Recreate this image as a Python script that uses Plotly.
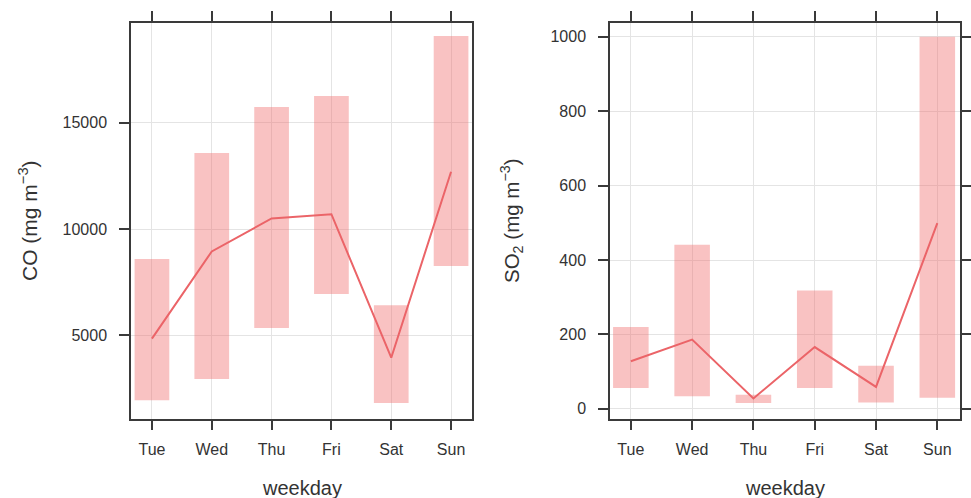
import plotly.graph_objects as go

days = ["Tue", "Wed", "Thu", "Fri", "Sat", "Sun"]

co_mean = [4850, 8950, 10500, 10700, 3950, 12700]
co_low = [1950, 2950, 5350, 6950, 1820, 8270]
co_high = [8590, 13580, 15740, 16260, 6420, 19090]

so2_mean = [128, 186, 28, 166, 59, 499]
so2_low = [56, 34, 16, 56, 17, 30]
so2_high = [220, 441, 38, 318, 116, 1000]

co_ticks = [5000, 10000, 15000]
so2_ticks = [0, 200, 400, 600, 800, 1000]

W, H = 971, 498
FONT = "Liberation Sans, Arial, sans-serif"
TXT = "#333333"
BAR = "rgba(240,110,110,0.42)"
LINE = "#EB6468"
GRID = "#E4E4E4"
AX = "#3a3a3a"

fig = go.Figure()

fig.add_trace(go.Bar(x=days, y=[h - l for h, l in zip(co_high, co_low)], base=co_low,
                     width=0.58, marker=dict(color=BAR, line=dict(width=0)),
                     xaxis="x", yaxis="y", showlegend=False))
fig.add_trace(go.Scatter(x=days, y=co_mean, mode="lines", line=dict(color=LINE, width=2),
                         xaxis="x", yaxis="y", showlegend=False))
fig.add_trace(go.Bar(x=days, y=[h - l for h, l in zip(so2_high, so2_low)], base=so2_low,
                     width=0.58, marker=dict(color=BAR, line=dict(width=0)),
                     xaxis="x2", yaxis="y2", showlegend=False))
fig.add_trace(go.Scatter(x=days, y=so2_mean, mode="lines", line=dict(color=LINE, width=2),
                         xaxis="x2", yaxis="y2", showlegend=False))

ydom = [(H - 418.5) / H, (H - 22.7) / H]

common_x = dict(type="category", showgrid=True, gridcolor=GRID, gridwidth=1,
                ticks="outside", ticklen=10, tickwidth=1.5, tickcolor=AX,
                showline=True, linecolor=AX, linewidth=1.5, mirror="allticks",
                automargin=False, ticklabelstandoff=6,
                tickfont=dict(family=FONT, size=16, color=TXT), zeroline=False)
common_y = dict(showgrid=True, gridcolor=GRID, gridwidth=1,
                ticks="outside", ticklen=10, tickwidth=1.5, tickcolor=AX,
                showline=True, linecolor=AX, linewidth=1.5, tickformat="d",
                automargin=False, ticklabelstandoff=9,
                tickfont=dict(family=FONT, size=16, color=TXT), zeroline=False)

fig.update_layout(
    width=W, height=H,
    margin=dict(l=0, r=0, t=0, b=0, autoexpand=False),
    paper_bgcolor="white", plot_bgcolor="white",
    barmode="overlay",
    xaxis=dict(common_x, domain=[131 / W, 472 / W], range=[-0.35, 5.35], anchor="y"),
    yaxis=dict(common_y, domain=ydom, range=[1090, 19710], tickvals=co_ticks,
               mirror=True, anchor="x"),
    xaxis2=dict(common_x, domain=[610 / W, 960 / W], range=[-0.34, 5.37], anchor="y2"),
    yaxis2=dict(common_y, domain=ydom, range=[-26, 1038], tickvals=so2_ticks,
                mirror="allticks", anchor="x2"),
    annotations=[
        dict(text="weekday", x=301.5 / W, y=(H - 488) / H, xref="paper", yref="paper",
             showarrow=False, font=dict(family=FONT, size=20, color=TXT),
             xanchor="center", yanchor="middle"),
        dict(text="weekday", x=785 / W, y=(H - 488) / H, xref="paper", yref="paper",
             showarrow=False, font=dict(family=FONT, size=20, color=TXT),
             xanchor="center", yanchor="middle"),
        dict(text="CO (mg m<sup>−3</sup>)", x=28 / W, y=(H - 221) / H, xref="paper", yref="paper",
             showarrow=False, textangle=-90, font=dict(family=FONT, size=21, color=TXT),
             xanchor="center", yanchor="middle"),
        dict(text="SO<sub>2</sub> (mg m<sup>−3</sup>)", x=512 / W, y=(H - 221) / H,
             xref="paper", yref="paper",
             showarrow=False, textangle=-90, font=dict(family=FONT, size=20.5, color=TXT),
             xanchor="center", yanchor="middle"),
    ],
)

fig.write_html("out.html", config={"displayModeBar": False},
               post_script="document.body.style.margin='0';document.body.style.padding='0';")
